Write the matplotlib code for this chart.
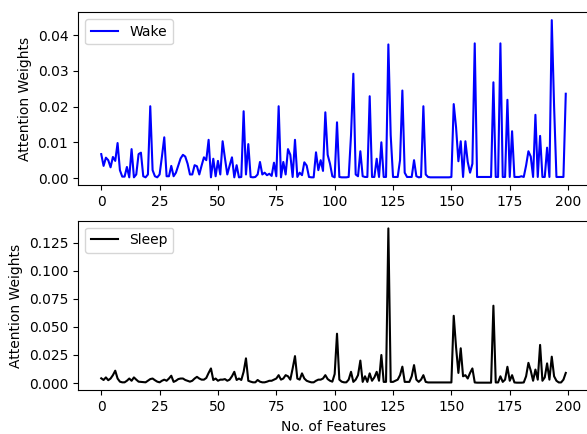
import numpy as np
from matplotlib import pyplot as plt
from matplotlib.ticker import MultipleLocator

# attention weights per feature
wake = [0.0067, 0.0034, 0.0057, 0.0050, 0.0030, 0.0059, 0.0048, 0.0098, 0.0022, 0.0004,
        0.0004, 0.0031, 0.0002, 0.0081, 0.0002, 0.0010, 0.0067, 0.0071, 0.0005, 0.0002,
        0.0010, 0.0201, 0.0022, 0.0005, 0.0002, 0.0010, 0.0060, 0.0114, 0.0005, 0.0005,
        0.0034, 0.0005, 0.0015, 0.0035, 0.0055, 0.0065, 0.0060, 0.0040, 0.0010, 0.0010,
        0.0036, 0.0033, 0.0010, 0.0035, 0.0058, 0.0050, 0.0107, 0.0002, 0.0054, 0.0005,
        0.0048, 0.0010, 0.0103, 0.0055, 0.0010, 0.0035, 0.0058, 0.0002, 0.0036, 0.0002,
        0.0003, 0.0187, 0.0010, 0.0095, 0.0003, 0.0002, 0.0003, 0.0010, 0.0045, 0.0010,
        0.0015, 0.0008, 0.0012, 0.0006, 0.0043, 0.0005, 0.0201, 0.0002, 0.0045, 0.0010,
        0.0081, 0.0065, 0.0003, 0.0107, 0.0003, 0.0015, 0.0008, 0.0044, 0.0035, 0.0003,
        0.0002, 0.0002, 0.0072, 0.0022, 0.0050, 0.0020, 0.0184, 0.0065, 0.0040, 0.0005,
        0.0002, 0.0156, 0.0003, 0.0002, 0.0002, 0.0002, 0.0003, 0.0120, 0.0292, 0.0010,
        0.0005, 0.0075, 0.0005, 0.0003, 0.0003, 0.0229, 0.0003, 0.0003, 0.0054, 0.0003,
        0.0100, 0.0003, 0.0003, 0.0374, 0.0120, 0.0003, 0.0003, 0.0003, 0.0050, 0.0245,
        0.0015, 0.0003, 0.0003, 0.0003, 0.0050, 0.0005, 0.0002, 0.0003, 0.0201, 0.0010,
        0.0003, 0.0002, 0.0002, 0.0002, 0.0002, 0.0002, 0.0002, 0.0002, 0.0002, 0.0002,
        0.0003, 0.0207, 0.0142, 0.0047, 0.0103, 0.0003, 0.0103, 0.0045, 0.0015, 0.0040,
        0.0377, 0.0003, 0.0003, 0.0003, 0.0003, 0.0003, 0.0003, 0.0003, 0.0268, 0.0003,
        0.0003, 0.0377, 0.0003, 0.0003, 0.0219, 0.0003, 0.0131, 0.0003, 0.0003, 0.0003,
        0.0005, 0.0003, 0.0035, 0.0075, 0.0060, 0.0003, 0.0177, 0.0003, 0.0118, 0.0003,
        0.0003, 0.0085, 0.0003, 0.0442, 0.0200, 0.0003, 0.0003, 0.0003, 0.0003, 0.0236]

sleep = [0.0042, 0.0027, 0.0050, 0.0025, 0.0040, 0.0070, 0.0110, 0.0040, 0.0012, 0.0006,
         0.0006, 0.0020, 0.0040, 0.0020, 0.0050, 0.0030, 0.0012, 0.0010, 0.0008, 0.0006,
         0.0020, 0.0035, 0.0040, 0.0025, 0.0012, 0.0006, 0.0020, 0.0030, 0.0020, 0.0040,
         0.0065, 0.0010, 0.0020, 0.0035, 0.0040, 0.0040, 0.0027, 0.0020, 0.0012, 0.0020,
         0.0040, 0.0055, 0.0040, 0.0030, 0.0030, 0.0045, 0.0090, 0.0130, 0.0027, 0.0040,
         0.0020, 0.0030, 0.0030, 0.0035, 0.0020, 0.0030, 0.0060, 0.0100, 0.0027, 0.0040,
         0.0027, 0.0100, 0.0220, 0.0020, 0.0012, 0.0006, 0.0006, 0.0027, 0.0012, 0.0006,
         0.0006, 0.0012, 0.0020, 0.0020, 0.0030, 0.0040, 0.0070, 0.0030, 0.0040, 0.0070,
         0.0060, 0.0030, 0.0130, 0.0240, 0.0040, 0.0030, 0.0086, 0.0040, 0.0020, 0.0012,
         0.0006, 0.0006, 0.0020, 0.0030, 0.0030, 0.0040, 0.0070, 0.0035, 0.0020, 0.0012,
         0.0080, 0.0440, 0.0030, 0.0012, 0.0006, 0.0006, 0.0030, 0.0100, 0.0010, 0.0030,
         0.0070, 0.0200, 0.0010, 0.0060, 0.0010, 0.0086, 0.0020, 0.0050, 0.0100, 0.0020,
         0.0250, 0.0010, 0.0010, 0.1380, 0.0010, 0.0010, 0.0020, 0.0030, 0.0070, 0.0146,
         0.0010, 0.0010, 0.0010, 0.0060, 0.0160, 0.0030, 0.0010, 0.0030, 0.0070, 0.0010,
         0.0005, 0.0005, 0.0005, 0.0005, 0.0005, 0.0005, 0.0005, 0.0005, 0.0005, 0.0005,
         0.0005, 0.0600, 0.0320, 0.0090, 0.0310, 0.0060, 0.0070, 0.0040, 0.0090, 0.0130,
         0.0005, 0.0003, 0.0003, 0.0003, 0.0003, 0.0003, 0.0003, 0.0003, 0.0690, 0.0005,
         0.0005, 0.0060, 0.0010, 0.0030, 0.0145, 0.0020, 0.0070, 0.0005, 0.0003, 0.0003,
         0.0003, 0.0005, 0.0060, 0.0180, 0.0110, 0.0020, 0.0120, 0.0030, 0.0340, 0.0020,
         0.0050, 0.0175, 0.0030, 0.0235, 0.0060, 0.0020, 0.0005, 0.0005, 0.0030, 0.0090]

features = np.arange(len(wake))

fig = plt.figure(figsize=(5.87, 4.34), dpi=100)
# axes run a bit past the right edge, like the reference crop
ax1 = fig.add_axes([0.1329, 0.5733, 0.8705, 0.3984])
ax2 = fig.add_axes([0.1329, 0.1005, 0.8705, 0.3910])

ax1.plot(features, wake, 'b', label='Wake')
ax1.set_ylabel("Attention Weights")
ax1.yaxis.set_major_locator(MultipleLocator(0.01))
ax1.legend(loc='upper left')

ax2.plot(features, sleep, 'k', label='Sleep')
ax2.set_ylabel("Attention Weights")
ax2.set_xlabel("No. of Features")
ax2.yaxis.set_major_locator(MultipleLocator(0.025))
ax2.legend(loc='upper left')

plt.savefig("out.png", dpi=100)
